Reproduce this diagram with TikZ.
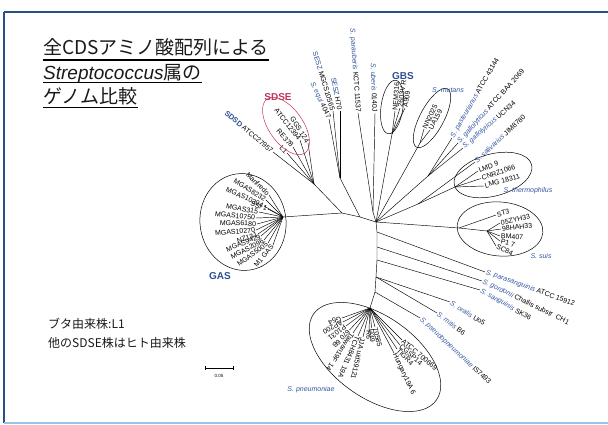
\documentclass[tikz,border=0pt]{standalone}
\usepackage{fontspec}
\setmainfont{Liberation Sans}
\newfontfamily\jp{Noto Sans CJK JP}
\definecolor{spb}{RGB}{52,86,160}
\definecolor{grpb}{RGB}{44,78,150}
\definecolor{sdsecol}{RGB}{192,52,92}
\definecolor{frtop}{RGB}{40,80,130}
\definecolor{frbot}{RGB}{150,195,230}
\newcommand{\spn}[1]{\textcolor{spb}{\itshape #1}}
\newcommand{\lfw}[6]{\node[lab,rotate=#4,anchor=west] (#1) at (#2,-#3) {#6};\draw[br] (#5) -- (#1.west);}
\newcommand{\lfe}[6]{\node[lab,rotate=#4,anchor=east] (#1) at (#2,-#3) {#6};\draw[br] (#5) -- (#1.east);}
\newcommand{\hubat}[3]{\coordinate (#1) at (#2,-#3);}
\tikzset{
  br/.style={line width=0.45pt,black},
  lab/.style={font=\fontsize{7}{8}\selectfont,inner sep=0.8pt,text=black},
  grp/.style={font=\bfseries\fontsize{10}{11}\selectfont,text=grpb,inner sep=0},
  splab/.style={font=\itshape\fontsize{7}{8}\selectfont,text=spb,inner sep=0},
  el/.style={line width=0.5pt,black},
  ttl/.style={anchor=base west,inner sep=0,text=black!90},
}
\begin{document}
\begin{tikzpicture}[x=1pt,y=1pt]
\useasboundingbox (0,0) rectangle (608,-425);
% frame
\coordinate (f1) at (4,-12); \coordinate (f2) at (608,-12);
\coordinate (f3) at (4,-423); \coordinate (f4) at (608,-423);
\draw[frtop,line width=1.5pt] (f1) -- (f2);
\draw[frtop,line width=1.2pt] (f1) -- (f3);
\draw[frbot,line width=1.5pt] (f3) -- (f4);
% title
\node[ttl,font=\jp\fontsize{19}{19}\selectfont] (t1) at (43,-55) {全CDSアミノ酸配列による};
\node[ttl,font=\fontsize{19}{19}\selectfont] (t2) at (43,-80) {{\itshape Streptococcus}{\jp 属の}};
\node[ttl,font=\jp\fontsize{19}{19}\selectfont] (t3) at (43,-104) {ゲノム比較};
\draw[line width=1.1pt] ([yshift=-5pt]t1.base west) -- ([yshift=-5pt]t1.base east);
\draw[line width=1.1pt] ([yshift=-2.5pt]t2.base west) -- ([yshift=-2.5pt]t2.base east);
\draw[line width=1.1pt] ([yshift=-3.5pt]t3.base west) -- ([yshift=-3.5pt]t3.base east);
% note
\node[ttl,font=\jp\fontsize{12}{14}\selectfont] (n1) at (48,-328) {ブタ由来株:L1};
\node[ttl,font=\jp\fontsize{12}{14}\selectfont] (n2) at (48,-347) {他のSDSE株はヒト由来株};
% scale bar
\coordinate (sb1) at (205,-368); \coordinate (sb2) at (233,-368);
\draw[br] (sb1) -- (sb2);
\draw[br] ([yshift=2pt]sb1) -- ([yshift=-2pt]sb1);
\draw[br] ([yshift=2pt]sb2) -- ([yshift=-2pt]sb2);
\node[font=\fontsize{4.5}{5}\selectfont,inner sep=0] (sbl) at (219,-376) {0.05};
% hubs
\hubat{C0}{376}{222}
\hubat{N1}{342}{213}
\hubat{N2}{360}{217}
\hubat{G}{283}{217}
\hubat{S}{314}{184}
\hubat{E}{340}{178}
\hubat{U}{373}{212}
\hubat{Gb}{392}{134}
\hubat{Mh}{420}{143}
\hubat{Ph}{428}{176}
\hubat{Sv}{418}{204}
\hubat{Th}{455}{187}
\hubat{Su}{459}{228}
\hubat{Sh}{487}{231}
\hubat{V1}{377}{232}
\hubat{V2}{377}{247}
\hubat{V3}{377}{260}
\hubat{V4}{376}{277}
\hubat{V5}{375}{292}
\hubat{P0}{370}{308}
% backbone
\draw[br] (G) -- (N1) -- (N2) -- (C0);
\draw[br] (N1) -- (S);
\draw[br] (N2) -- (E);
\draw[br] (U) -- (C0);
\draw[br] (Gb) -- (C0);
\draw[br] (Mh) -- (C0);
\draw[br] (Ph) -- (C0);
\draw[br] (Sv) -- (C0);
\draw[br] (Sv) -- (Th);
\draw[br] (C0) -- (Su) -- (Sh);
\draw[br] (C0) -- (V1) -- (V2) -- (V3) -- (V4) -- (V5) -- (P0);
% GAS
\lfe{g1}{269}{195}{-45}{G}{Manfredo}
\lfe{g2}{266}{200}{-32}{G}{MGAS8232}
\lfe{g3}{264}{206}{-24}{G}{MGAS10394}
\lfe{g4}{268}{209}{-18}{G}{SSI 1}
\lfe{g5}{259}{212}{-10}{G}{MGAS315}
\lfe{g6}{256}{218}{-6}{G}{MGAS10750}
\lfe{g7}{257}{224}{-2}{G}{MGAS6180}
\lfe{g8}{256}{230}{5}{G}{MGAS10270}
\lfe{g9}{258}{234}{18}{G}{NZ131}
\lfe{g10}{261}{236}{22}{G}{MGAS9429}
\lfe{g11}{264}{240}{28}{G}{MGAS2096}
\lfe{g12}{268}{243}{36}{G}{MGAS5005}
\lfe{g13}{273}{245}{50}{G}{M1 GAS}
\draw[el,rotate around={8:(243,-222)}] (243,-222) ellipse (43pt and 48.5pt);
\node[grp] (gas) at (220,-276) {GAS};
% SDSE / SDSD
\lfe{s1}{308}{143}{-58}{S}{GGS 124}
\lfe{s2}{300}{140}{-52}{S}{ATCC12394}
\lfe{s3}{293}{147}{-48}{S}{RE378}
\lfe{s4}{287}{153}{-45}{S}{L1}
\lfe{s5}{273}{152}{-40}{S}{{\color{grpb}\bfseries\fontsize{7.5}{8}\selectfont SDSD} ATCC27957}
\draw[sdsecol,line width=0.5pt,rotate around={-55:(286,-126)}] (286,-126) ellipse (33pt and 17pt);
\node[grp,text=sdsecol] (sdse) at (278,-97) {SDSE};
% equi / uberis
\lfe{e1}{329}{119}{-65}{E}{\spn{S. equi} 4047}
\lfe{e2}{333}{111}{-73}{E}{\textcolor{grpb}{SESZ} MGCS10565}
\lfe{e3}{340}{111}{-79}{E}{\textcolor{grpb}{SESZ} H70}
\lfe{u1}{358}{113}{-86}{U}{\spn{S. parauberis} KCTC 11537}
\lfe{u2}{375}{113}{-88}{U}{\spn{S. uberis} 0140J}
% GBS
\lfw{b1}{395}{111}{86}{Gb}{NEM316}
\lfw{b2}{400}{108}{82}{Gb}{2603V R}
\lfw{b3}{405}{108}{80}{Gb}{A909}
\draw[el,rotate around={82:(392,-107)}] (392,-107) ellipse (27pt and 11pt);
\node[grp] (gbs) at (403,-76) {GBS};
% mutans
\lfw{m1}{424}{129}{64}{Mh}{NN2025}
\lfw{m2}{430}{130}{62}{Mh}{UA159}
\draw[el,rotate around={62:(432,-118)}] (432,-118) ellipse (33pt and 12pt);
\node[splab] (mut) at (448,-90) {S. mutans};
% pasteurianus / gallolyticus / salivarius
\lfw{p1}{452}{138}{60}{Ph}{\spn{S. pasteurianus} ATCC 43144}
\lfw{p2}{458}{143}{48}{Ph}{\spn{S. gallolyticus} ATCC BAA 2069}
\lfw{p3}{463}{148}{41}{Ph}{\spn{S. gallolyticus} UCN34}
\lfw{sv}{475}{162}{43}{Sv}{\spn{S. salivarius} JIM8780}
% thermophilus
\lfw{t1l}{478}{171}{22}{Th}{LMD 9}
\lfw{t2l}{481}{178.5}{19}{Th}{CNRZ1066}
\lfw{t3l}{484}{186}{16}{Th}{LMG 18311}
\draw[el,rotate around={15:(493,-175)}] (493,-175) ellipse (40pt and 21pt);
\node[splab] (therm) at (528,-191) {S. thermophilus};
% suis
\lfw{su1}{496}{215}{15}{Su}{ST3}
\lfw{su2}{500}{223}{12}{Sh}{05ZYH33}
\lfw{su3}{501}{229}{7}{Sh}{98HAH33}
\lfw{su4}{500}{236}{-3}{Sh}{BM407}
\lfw{su5}{500}{241}{-15}{Sh}{P1 7}
\lfw{su6}{496}{246}{-25}{Sh}{SC84}
\draw[el,rotate around={-5:(500,-229)}] (500,-229) ellipse (43pt and 27pt);
\node[splab] (suis) at (541,-256) {S. suis};
% mitis group
\lfw{mi1}{485}{272}{-20}{V1}{\spn{S. parasanguinis} ATCC 15912}
\lfw{mi2}{482}{281}{-26}{V2}{\spn{S. gordonii} Challis substr~~CH1}
\lfw{mi3}{480}{290}{-30}{V3}{\spn{S. sanguinis} SK36}
\lfw{mi4}{450}{302}{-32}{V4}{\spn{S. oralis} Uo5}
\lfw{mi5}{437}{313}{-37}{V4}{\spn{S. mitis} B6}
\lfw{mi6}{420}{318}{-43}{V5}{\spn{S. pseudopneumoniae} IS7493}
% pneumoniae
\lfw{pn1}{342}{318}{-160}{P0}{G54}
\lfw{pn2}{343}{322}{-153}{P0}{AP200}
\lfw{pn3}{346}{326}{-143}{P0}{P1031}
\lfw{pn4}{349.5}{330}{-133}{P0}{670 6B}
\lfw{pn5}{353}{333}{-124}{P0}{Taiwan19F 14}
\lfw{pn6}{358}{336}{-113}{P0}{TCH8431 19A}
\lfw{pn7}{363}{337}{-103}{P0}{JJA uid59121}
\lfw{pn8}{369}{330}{-92}{P0}{R6}
\lfw{pn9}{371.5}{328}{-86}{P0}{D39}
\lfw{pn10}{375}{327}{-76}{P0}{70585}
\lfw{pn11}{402}{340}{-40}{P0}{ATCC 700669}
\lfw{pn12}{400}{345}{-42}{P0}{CGSP14}
\lfw{pn13}{397}{349}{-45}{P0}{TIGR4}
\lfw{pn14}{394}{353}{-65}{P0}{Hungary19A 6}
\draw[el,rotate around={-35:(375,-357)}] (375,-357) ellipse (75pt and 41pt);
\node[splab] (pneu) at (311,-390) {S. pneumoniae};
\end{tikzpicture}
\end{document}
